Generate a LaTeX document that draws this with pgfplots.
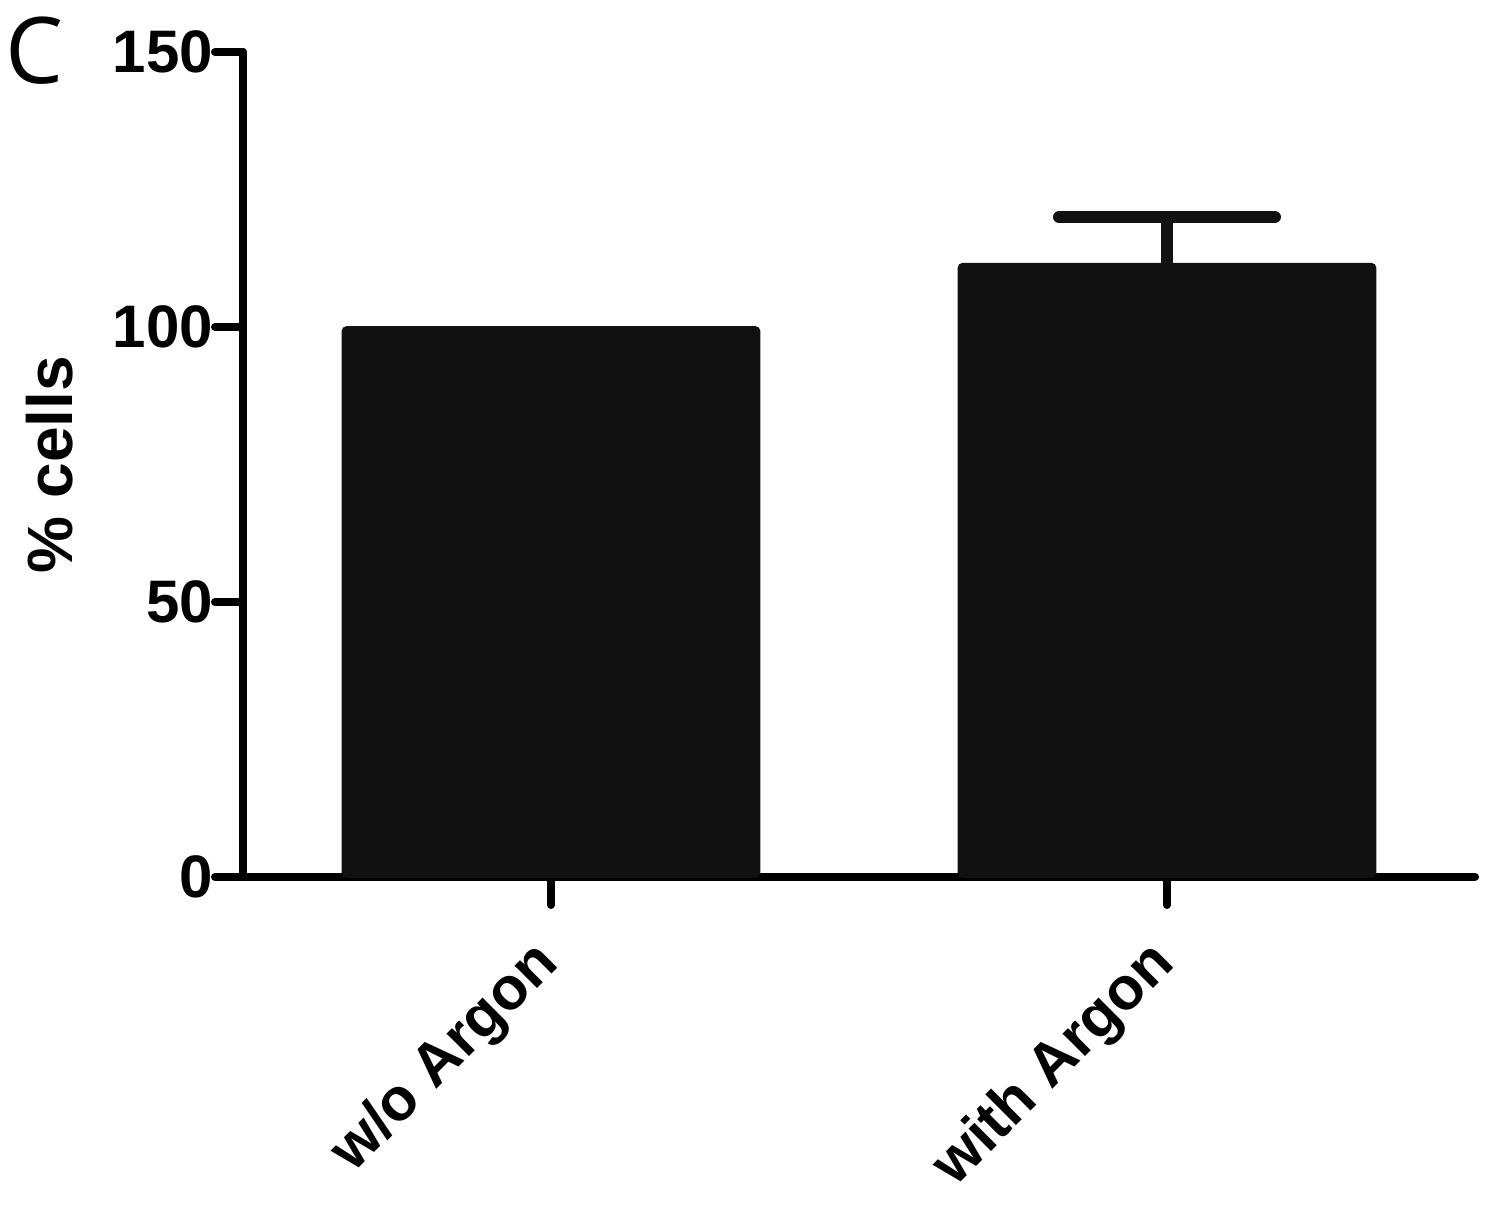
\documentclass[border=0pt]{standalone}
\usepackage{pgfplots}
\pgfplotsset{compat=1.18}
\usepackage{fontspec}
\setmainfont{Liberation Sans}
\newfontfamily\panelfont{Open Sans}

\definecolor{barfill}{HTML}{111111}

\begin{document}
\begin{tikzpicture}
  % 1 px of the reference = 0.25pt; axis box lower-left sits at (0,0)
  \useasboundingbox (-60.75pt,-84.5pt) rectangle (312pt,219.25pt);
  \begin{axis}[
    at={(0,0)}, anchor=south west,
    scale only axis,
    width=308pt, height=206.25pt,
    axis lines*=left,
    axis line style={-, line width=2pt, line cap=round},
    xmin=-0.5, xmax=1.5,
    ymin=0, ymax=150,
    xtick={0,1},
    xticklabels={w/o Argon, with Argon},
    ytick={0,50,100,150},
    tick align=outside,
    major tick length=7pt,
    tick style={line width=2pt, black, line cap=round},
    /pgf/number format/assume math mode=true,
    ticklabel style={font=\bfseries\fontsize{15}{15}\selectfont},
    y tick label style={xshift=3pt},
    x tick label style={rotate=45, anchor=north east, xshift=-5.5pt, yshift=2pt},
    ylabel={\% cells},
    ylabel style={font=\bfseries\fontsize{16}{16}\selectfont,
                  at={(axis description cs:-0.157,0.5)}, anchor=center},
    clip=false,
  ]
    % w/o Argon (no error bar)
    \addplot [ybar, bar width=104.25pt, bar shift=0pt,
              fill=barfill, draw=barfill, rounded corners=1pt]
      coordinates {(0,100)};
    % with Argon, mean + SEM
    \addplot [ybar, bar width=104.25pt, bar shift=0pt,
              fill=barfill, draw=barfill, rounded corners=1pt,
              error bars/.cd, y dir=plus, y explicit,
              error bar style={line width=3pt, barfill, line cap=round},
              error mark options={barfill, line width=3pt, mark size=27pt,
                                  line cap=round, rotate=90}]
      coordinates {(1,111.5) +- (0,8.5)};
  \end{axis}
  \node[font=\panelfont\fontsize{23}{23}\selectfont, anchor=center] at (-52pt,206.5pt) {C};
\end{tikzpicture}
\end{document}
